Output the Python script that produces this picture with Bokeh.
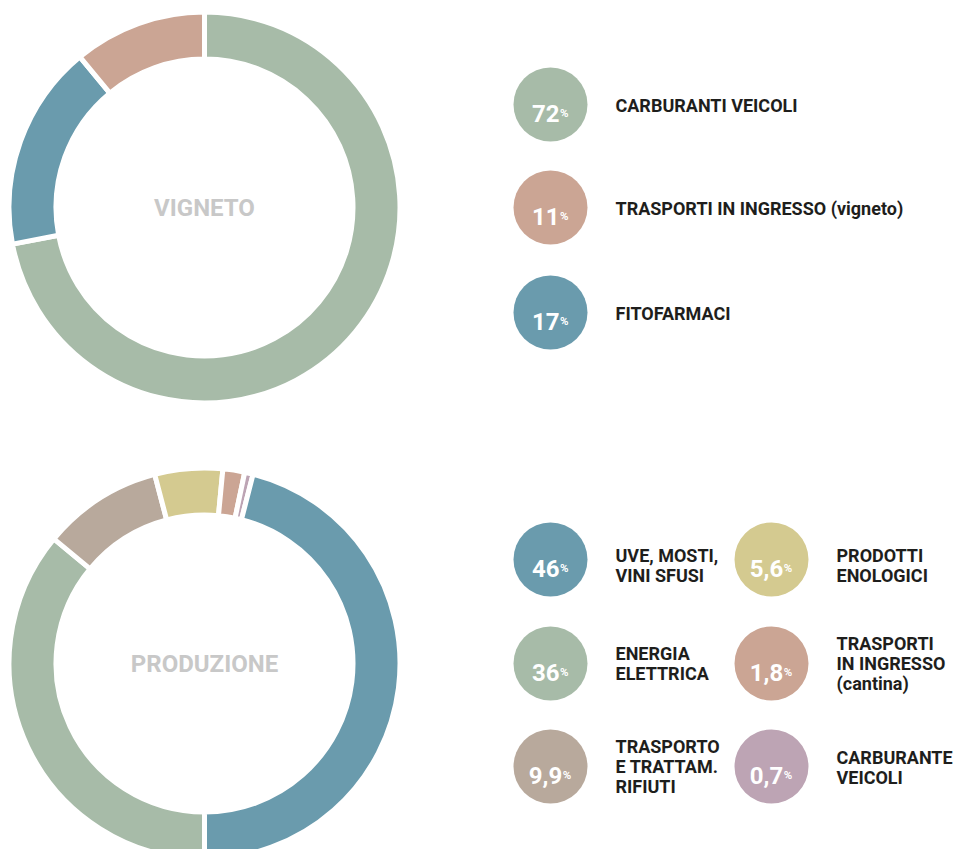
import math
from bokeh.plotting import figure
from bokeh.models import Range1d, ColumnDataSource
from bokeh.embed import file_html
from bokeh.resources import INLINE
from bokeh.core.properties import value

# ---------------- data ----------------
top_title = "VIGNETO"
top_labels = ["CARBURANTI VEICOLI", "TRASPORTI IN INGRESSO (vigneto)", "FITOFARMACI"]
top_values = [72, 11, 17]
top_colors = ["#A7BBA8", "#CBA594", "#6A9BAD"]
top_ring_order = [0, 2, 1]          # clockwise from 12 o'clock

bottom_title = "PRODUZIONE"
bottom_labels = ["UVE, MOSTI,\nVINI SFUSI", "ENERGIA\nELETTRICA", "TRASPORTO\nE TRATTAM.\nRIFIUTI",
                 "PRODOTTI\nENOLOGICI", "TRASPORTI\nIN INGRESSO\n(cantina)", "CARBURANTE\nVEICOLI"]
bottom_values = [46, 36, 9.9, 5.6, 1.8, 0.7]
bottom_colors = ["#6A9BAD", "#A7BBA8", "#B8A99C", "#D4CA90", "#CBA594", "#BDA4B4"]
bottom_ring_order = [1, 2, 3, 4, 5, 0]   # clockwise from 6 o'clock

# ---------------- layout ----------------
W, H = 957, 849

def sx(x):
    return x

def sy(y):
    return H - y

p = figure(width=W, height=H, x_range=Range1d(0, W), y_range=Range1d(0, H),
           output_backend="svg", toolbar_location=None, min_border=0,
           x_axis_type=None, y_axis_type=None)
p.grid.visible = False
p.outline_line_color = None
p.background_fill_color = "white"
p.border_fill_color = "white"

FONT = value("Roboto")
R_OUT, R_IN, GAP = 193, 151, 5
LEG_R = 37

def fmt(v):
    if float(v).is_integer():
        return str(int(v))
    return str(v).replace(".", ",")

def donut(cx, cy, values, colors, order, start_deg, title):
    total = float(sum(values))
    starts, ends, cols = [], [], []
    acc = start_deg
    for i in order:
        span = values[i] / total * 360.0
        a0, a1 = acc, acc + span
        starts.append(math.pi / 2 - math.radians(a0))
        ends.append(math.pi / 2 - math.radians(a1))
        cols.append(colors[i])
        acc = a1
    n = len(order)
    src = ColumnDataSource(dict(x=[sx(cx)] * n, y=[sy(cy)] * n, s=starts, e=ends, c=cols))
    p.annular_wedge(x="x", y="y", inner_radius=R_IN - GAP / 2, outer_radius=R_OUT + GAP / 2,
                    inner_radius_units="screen", outer_radius_units="screen",
                    start_angle="s", end_angle="e", direction="clock",
                    fill_color="c", line_color="white", line_width=GAP, source=src)
    p.text(x=[sx(cx)], y=[sy(cy)], text=[title], text_font=FONT, text_font_style="bold",
           text_font_size="24px", text_color="#C8C8C8", text_align="center",
           text_baseline="middle")

def legend(xs, ys, label_dy, values, colors, labels):
    n = len(values)
    p.scatter(x=[sx(x) for x in xs], y=[sy(y) for y in ys], size=2 * LEG_R, marker="circle",
              fill_color=colors, line_color=None)
    num_size, pct_size = 24, 11.5
    jx, jy = [], []
    for x, y, v in zip(xs, ys, values):
        t = fmt(v)
        num_w = sum(0.23 if ch == "," else 0.56 for ch in t) * num_size
        pct_w = 0.78 * pct_size
        jx.append(sx(x + (num_w - pct_w) / 2))
        jy.append(sy(y + 8.5))
    p.text(x=jx, y=jy, text=[fmt(v) for v in values], text_font=FONT, text_font_style="bold",
           text_font_size=f"{num_size}px", text_color="white", text_align="right",
           text_baseline="alphabetic")
    p.text(x=[j + 0.5 for j in jx], y=jy, text=["%"] * n, text_font=FONT, text_font_style="bold",
           text_font_size=f"{pct_size}px", text_color="white", text_align="left",
           text_baseline="alphabetic")
    p.text(x=[sx(x + 65) for x in xs], y=[sy(y + d) for y, d in zip(ys, label_dy)], text=labels,
           text_font=FONT, text_font_style="bold", text_font_size="18px", text_color="#1E1E1C",
           text_align="left", text_baseline="middle", text_line_height=0.95)

# top donut + legend
donut(204, 207, top_values, top_colors, top_ring_order, 0, top_title)
legend([550, 550, 550], [104, 207, 312], [1, 1, 1], top_values, top_colors, top_labels)

# bottom donut + legend
donut(204, 663, bottom_values, bottom_colors, bottom_ring_order, 180, bottom_title)
legend([550, 550, 550, 771, 771, 771], [559, 663, 766, 559, 663, 766], [6, 0, 0, 6, 0, 1],
       bottom_values, bottom_colors, bottom_labels)

open("out.html", "w").write(file_html(p, INLINE))
